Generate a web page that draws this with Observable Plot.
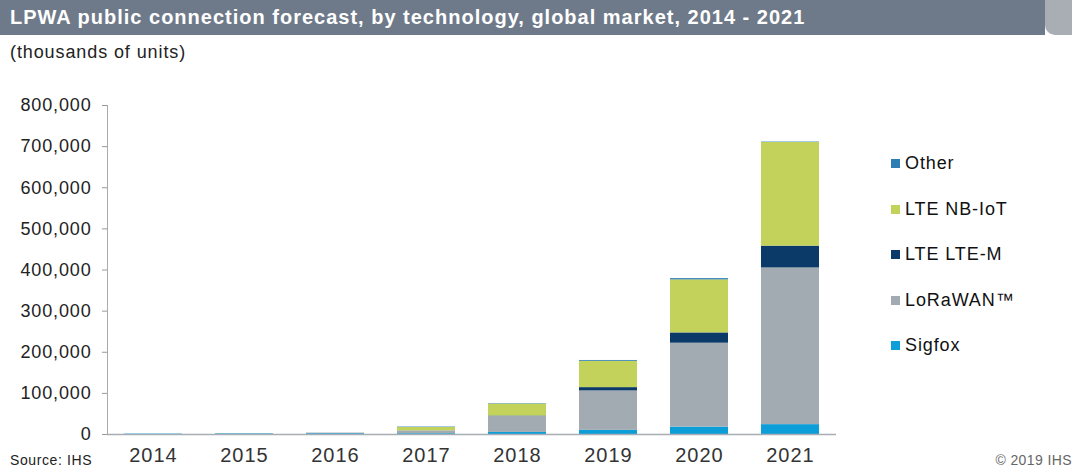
<!DOCTYPE html>
<html>
<head>
<meta charset="utf-8">
<script src="https://cdn.jsdelivr.net/npm/d3@7"></script>
<script src="https://cdn.jsdelivr.net/npm/@observablehq/plot@0.6"></script>
<style>
  html, body { margin: 0; padding: 0; background: #fff; }
  body { width: 1080px; height: 473px; position: relative; overflow: hidden; font-family: "Liberation Sans", Arial, sans-serif; }
  #titlebar { position: absolute; left: 0; top: 0; width: 1045px; height: 35px; background: #6e7a89; }
  #titleedge { position: absolute; left: 1045px; top: 0; width: 27px; height: 35px; background: #a8aeb4; border-bottom-left-radius: 10px; }
  #title { position: absolute; left: 10px; top: 6px; color: #fff; font-weight: bold; font-size: 20px; letter-spacing: 1px; white-space: nowrap; }
  #subtitle { position: absolute; left: 10px; top: 42px; color: #222; font-size: 18px; letter-spacing: 0.9px; white-space: nowrap; }
  #chart { position: absolute; left: 0; top: 90px; }
  #chart g[aria-label="y-axis tick label"] text { letter-spacing: 0.85px; }
  #chart g[aria-label="x-axis tick label"] text { letter-spacing: 1px; }
  #legend { position: absolute; left: 891px; top: 153px; }
  .item { height: 45.5px; display: flex; align-items: flex-start; font-size: 18px; color: #111; letter-spacing: 0.9px; white-space: nowrap; }
  .sw { width: 9px; height: 9px; margin-right: 5px; margin-top: 6px; }
  #source { position: absolute; left: 10px; top: 452px; font-size: 14px; letter-spacing: 0.6px; color: #222; }
  #copy { position: absolute; right: 8px; top: 452px; font-size: 14px; letter-spacing: 0.4px; color: #666; }
</style>
</head>
<body>
<div id="titlebar"></div>
<div id="titleedge"></div>
<div id="title">LPWA public connection forecast, by technology, global market, 2014 - 2021</div>
<div id="subtitle">(thousands of units)</div>
<div id="chart"></div>
<div id="legend"></div>
<div id="source">Source: IHS</div>
<div id="copy">© 2019 IHS</div>
<script>
const years = ["2014", "2015", "2016", "2017", "2018", "2019", "2020", "2021"];
const techs = ["Sigfox", "LoRaWAN™", "LTE LTE-M", "LTE NB-IoT", "Other"];
const colors = ["#0b9ed9", "#a2abb2", "#0b3a68", "#c2d25a", "#2b7db3"];
const sigfox  = [1000, 1500, 2000, 2000, 5000, 10000, 18000, 24000];
const lorawan = [0, 500, 1500, 7000, 39000, 96000, 204000, 381000];
const lteM    = [0, 0, 0, 0, 1000, 8000, 25000, 53000];
const nbIot   = [0, 0, 0, 8000, 29000, 64000, 129000, 252000];
const other   = [0, 0, 0, 1000, 1000, 2000, 3000, 1000];
const yTicks  = [0, 100000, 200000, 300000, 400000, 500000, 600000, 700000, 800000];

const series = [sigfox, lorawan, lteM, nbIot, other];
const rows = [];
techs.forEach((t, i) => years.forEach((y, j) => rows.push({year: y, tech: t, value: series[i][j]})));

const chart = Plot.plot({
  width: 850,
  height: 383,
  marginLeft: 107,
  marginRight: 14,
  marginTop: 15,
  marginBottom: 39,
  style: {fontFamily: "Liberation Sans, Arial, sans-serif", background: "transparent"},
  x: {domain: years, paddingInner: 0.36, paddingOuter: 0.18, label: null},
  y: {domain: [0, 800000], label: null},
  color: {domain: techs, range: colors},
  marks: [
    Plot.barY(rows, {x: "year", y: "value", fill: "tech", order: techs}),
    Plot.axisY({ticks: yTicks, tickFormat: d3.format(","), tickSize: 5, tickPadding: 11, stroke: "#999",
      fontSize: 18, fill: "#222", label: null}),
    Plot.axisX({tickSize: 0, tickPadding: 13, fontSize: 20, fill: "#333", label: null}),
    Plot.frame({anchor: "left", stroke: "#aaa"}),
    Plot.ruleY([0], {stroke: "#a7adb3", strokeWidth: 1.5})
  ]
});
document.getElementById("chart").appendChild(chart);

const legend = document.getElementById("legend");
const legendOrder = ["Other", "LTE NB-IoT", "LTE LTE-M", "LoRaWAN™", "Sigfox"];
legendOrder.forEach(t => {
  const d = document.createElement("div");
  d.className = "item";
  const s = document.createElement("div");
  s.className = "sw";
  s.style.background = colors[techs.indexOf(t)];
  d.appendChild(s);
  d.appendChild(document.createTextNode(t));
  legend.appendChild(d);
});
</script>
</body>
</html>
